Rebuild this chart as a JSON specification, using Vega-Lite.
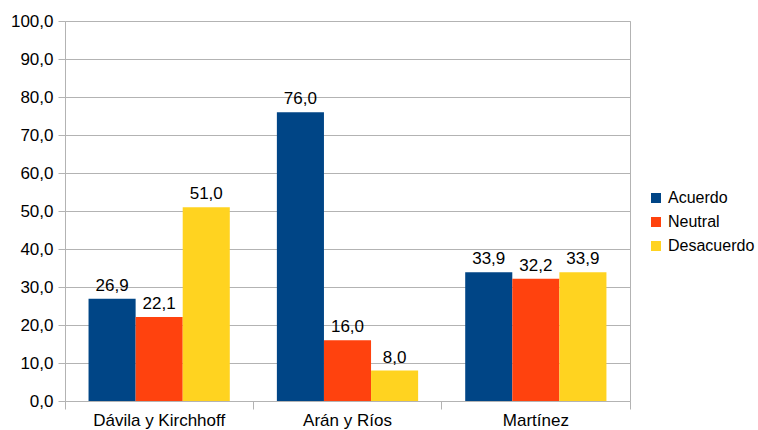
{
  "$schema": "https://vega.github.io/schema/vega-lite/v6.json",
  "width": 565,
  "height": 380,
  "autosize": {"type": "none"},
  "padding": {"left": 65, "top": 21, "right": 128, "bottom": 29},
  "config": {
    "locale": {"number": {"decimal": ",", "thousands": ".", "grouping": [3], "currency": ["", " €"]}},
    "view": {"stroke": "#b3b3b3", "strokeWidth": 1},
    "font": "Liberation Sans"
  },
  "data": {
    "values": [
      {"autor": "Dávila y Kirchhoff", "respuesta": "Acuerdo", "valor": 26.9},
      {"autor": "Dávila y Kirchhoff", "respuesta": "Neutral", "valor": 22.1},
      {"autor": "Dávila y Kirchhoff", "respuesta": "Desacuerdo", "valor": 51.0},
      {"autor": "Arán y Ríos", "respuesta": "Acuerdo", "valor": 76.0},
      {"autor": "Arán y Ríos", "respuesta": "Neutral", "valor": 16.0},
      {"autor": "Arán y Ríos", "respuesta": "Desacuerdo", "valor": 8.0},
      {"autor": "Martínez", "respuesta": "Acuerdo", "valor": 33.9},
      {"autor": "Martínez", "respuesta": "Neutral", "valor": 32.2},
      {"autor": "Martínez", "respuesta": "Desacuerdo", "valor": 33.9}
    ]
  },
  "encoding": {
    "x": {
      "field": "autor",
      "type": "nominal",
      "sort": ["Dávila y Kirchhoff", "Arán y Ríos", "Martínez"],
      "scale": {"paddingInner": 0, "paddingOuter": 0},
      "axis": {
        "title": null,
        "labelAngle": 0,
        "bandPosition": 1,
        "tickExtra": true,
        "tickSize": 8,
        "tickColor": "#b3b3b3",
        "domain": false,
        "grid": false,
        "labelFontSize": 17,
        "labelPadding": 3,
        "labelColor": "#000000"
      }
    },
    "xOffset": {
      "field": "respuesta",
      "type": "nominal",
      "sort": ["Acuerdo", "Neutral", "Desacuerdo"],
      "scale": {"paddingInner": 0, "paddingOuter": 0.5}
    },
    "y": {
      "field": "valor",
      "type": "quantitative",
      "scale": {"domain": [0, 100], "nice": false},
      "axis": {
        "title": null,
        "values": [0, 10, 20, 30, 40, 50, 60, 70, 80, 90, 100],
        "format": ".1f",
        "grid": true,
        "gridColor": "#b3b3b3",
        "tickColor": "#b3b3b3",
        "tickSize": 7,
        "domain": false,
        "labelFontSize": 17,
        "labelPadding": 5,
        "labelColor": "#000000"
      }
    }
  },
  "layer": [
    {
      "mark": {"type": "bar"},
      "encoding": {
        "color": {
          "field": "respuesta",
          "type": "nominal",
          "sort": ["Acuerdo", "Neutral", "Desacuerdo"],
          "scale": {
            "domain": ["Acuerdo", "Neutral", "Desacuerdo"],
            "range": ["#004586", "#ff420e", "#ffd320"]
          },
          "legend": {
            "title": null,
            "orient": "none",
            "legendX": 583,
            "legendY": 169,
            "symbolType": "square",
            "symbolSize": 100,
            "symbolStrokeWidth": 0,
            "labelFontSize": 16,
            "labelColor": "#000000",
            "labelOffset": 4,
            "rowPadding": 8
          }
        }
      }
    },
    {
      "mark": {"type": "text", "baseline": "alphabetic", "dy": -8, "fontSize": 17, "color": "#000000"},
      "encoding": {
        "text": {"field": "valor", "type": "quantitative", "format": ".1f"}
      }
    }
  ]
}
